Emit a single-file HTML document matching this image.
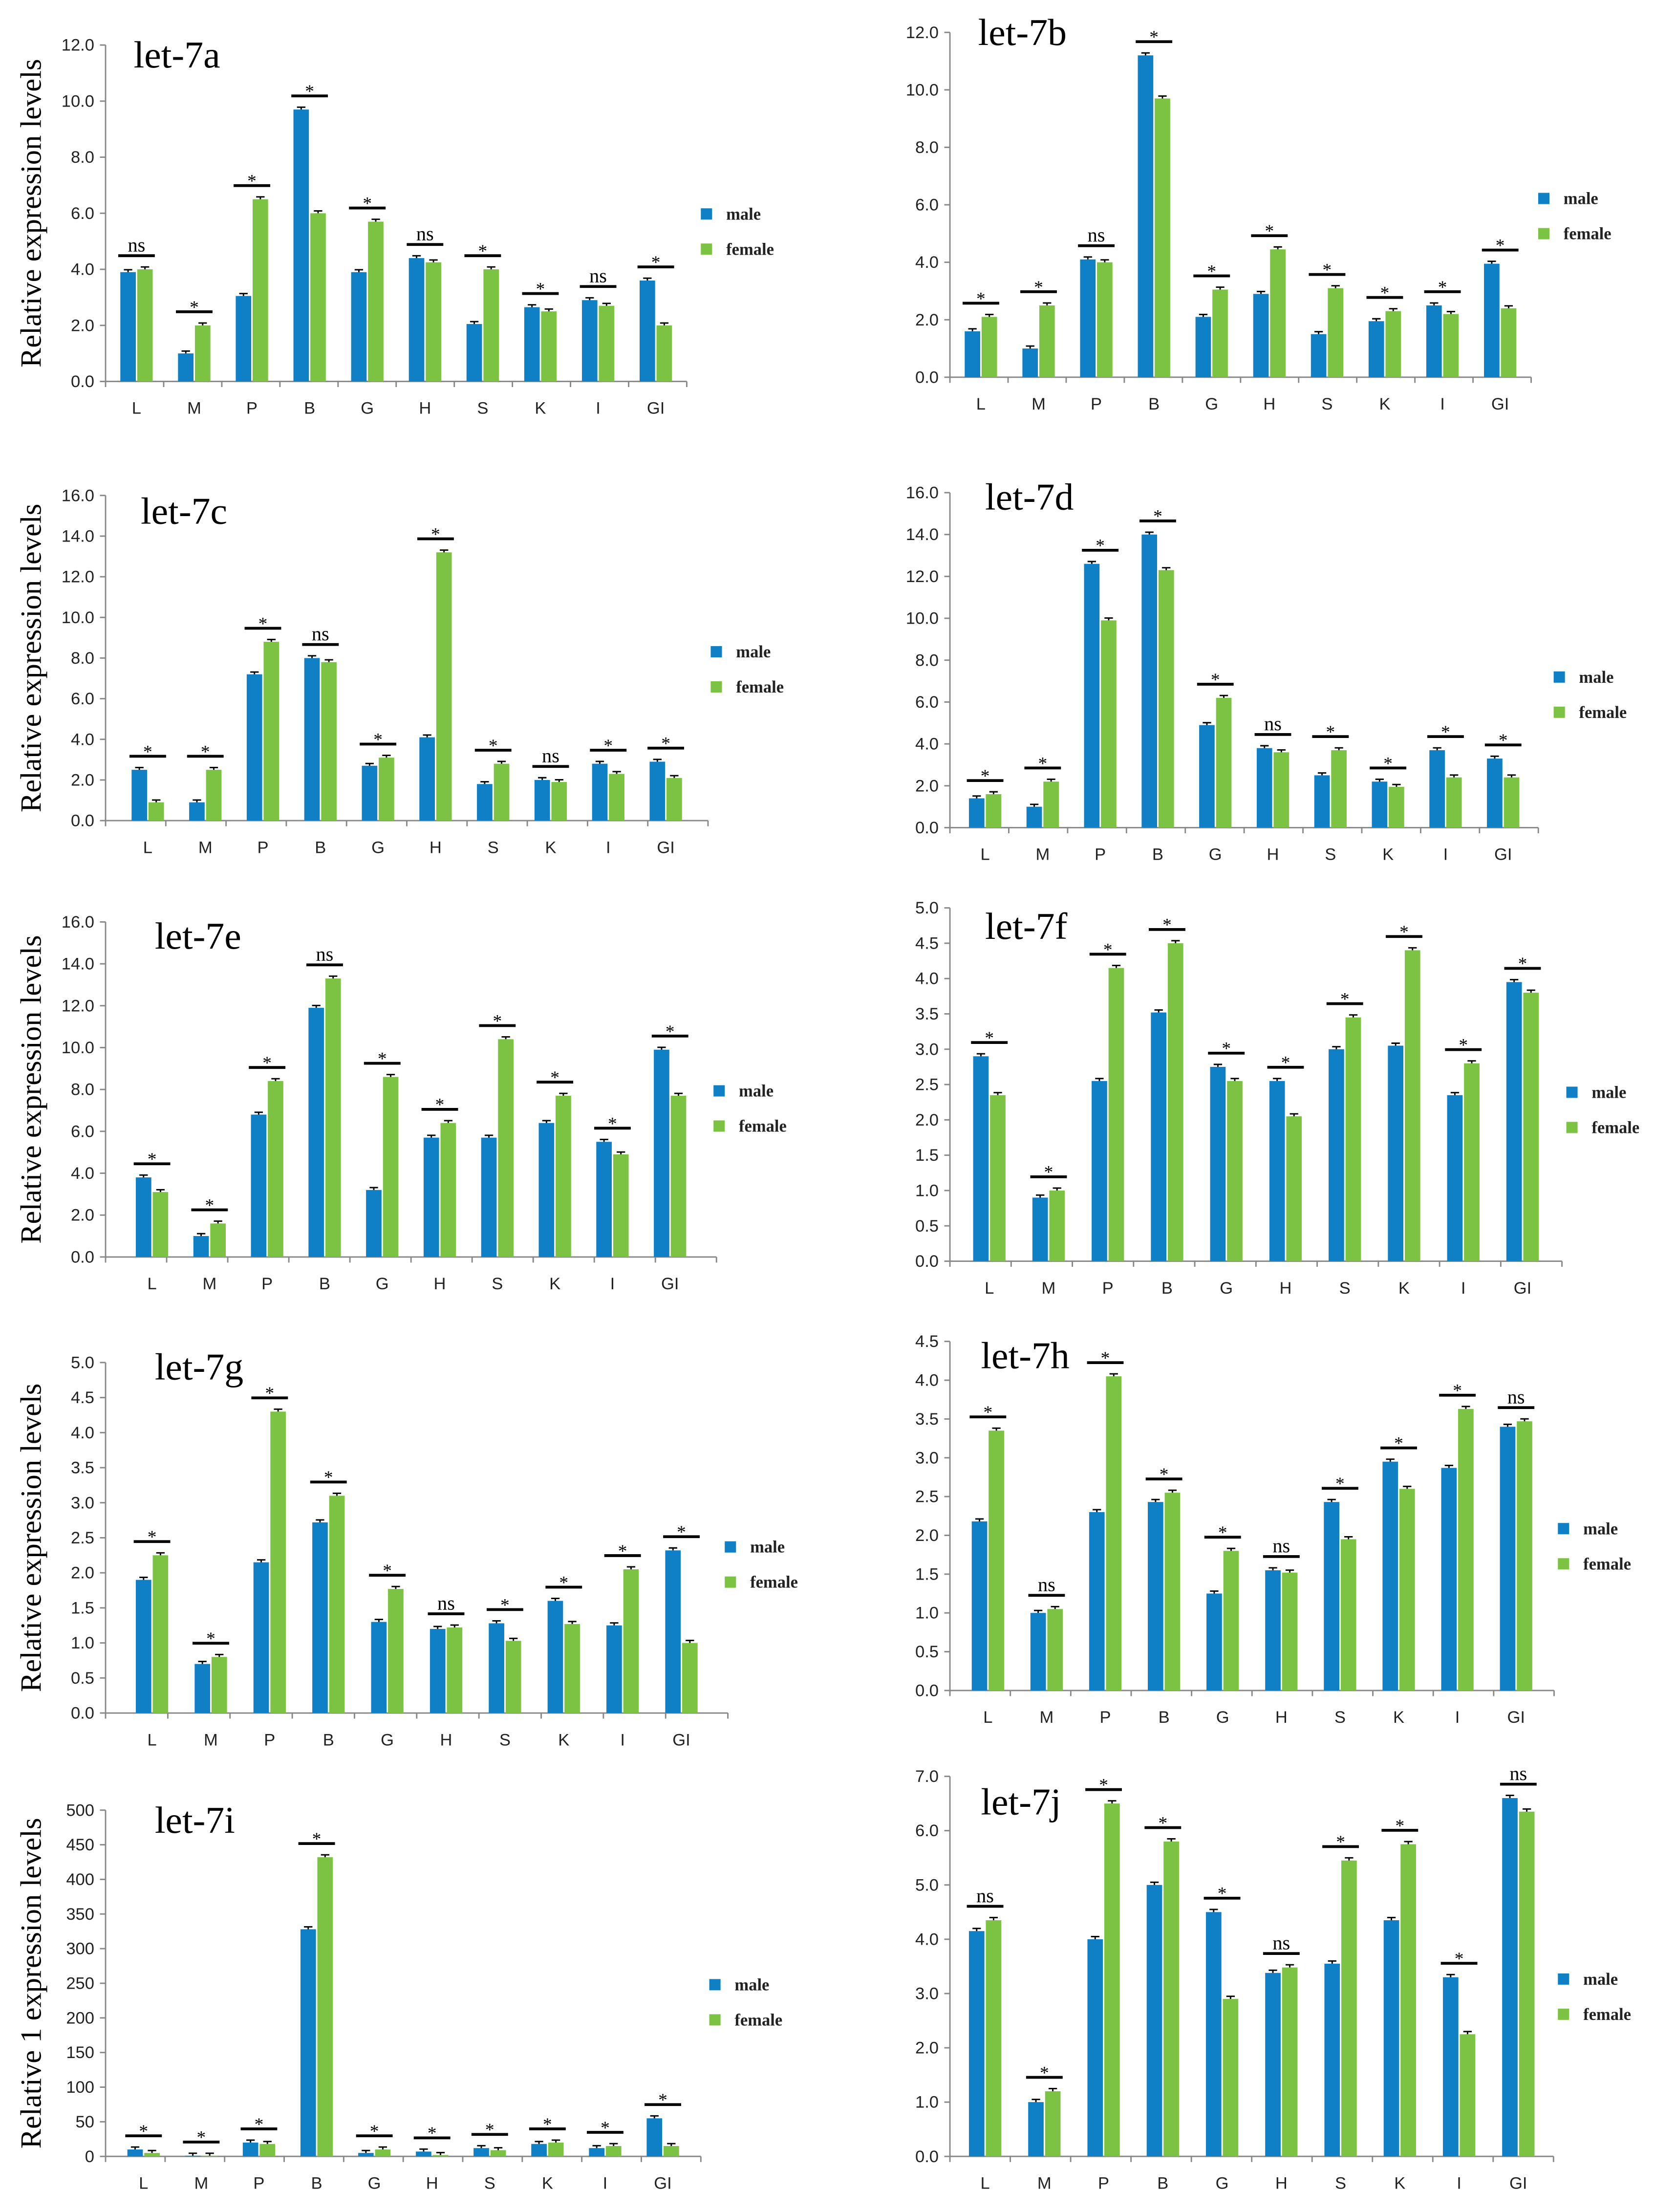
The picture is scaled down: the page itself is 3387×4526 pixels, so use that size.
<!DOCTYPE html>
<html><head><meta charset="utf-8">
<style>
html,body{margin:0;padding:0;background:#fff;}
svg{display:block;}
</style></head>
<body>
<svg id="fig" xmlns="http://www.w3.org/2000/svg" width="3387" height="4526" viewBox="0 0 1176 1571.5"></svg>
<script>
const cats = ["L","M","P","B","G","H","S","K","I","GI"];
const a_male   = [3.9,1.0,3.05,9.7,3.9,4.4,2.05,2.65,2.9,3.6];
const a_female = [4.0,2.0,6.5,6.0,5.7,4.25,4.0,2.5,2.7,2.0];
const a_sig    = ["ns","*","*","*","*","ns","*","*","ns","*"];
const b_male   = [1.6,1.0,4.1,11.2,2.1,2.9,1.5,1.95,2.5,3.95];
const b_female = [2.1,2.5,4.0,9.7,3.05,4.45,3.1,2.3,2.2,2.4];
const b_sig    = ["*","*","ns","*","*","*","*","*","*","*"];
const c_male   = [2.5,0.9,7.2,8.0,2.7,4.1,1.8,2.0,2.8,2.9];
const c_female = [0.9,2.5,8.8,7.8,3.1,13.2,2.8,1.9,2.3,2.1];
const c_sig    = ["*","*","*","ns","*","*","*","ns","*","*"];
const d_male   = [1.4,1.0,12.6,14.0,4.9,3.8,2.5,2.2,3.7,3.3];
const d_female = [1.6,2.2,9.9,12.3,6.2,3.6,3.7,1.95,2.4,2.4];
const d_sig    = ["*","*","*","*","*","ns","*","*","*","*"];
const e_male   = [3.8,1.0,6.8,11.9,3.2,5.7,5.7,6.4,5.5,9.9];
const e_female = [3.1,1.6,8.4,13.3,8.6,6.4,10.4,7.7,4.9,7.7];
const e_sig    = ["*","*","*","ns","*","*","*","*","*","*"];
const f_male   = [2.9,0.9,2.55,3.52,2.75,2.55,3.0,3.05,2.35,3.95];
const f_female = [2.35,1.0,4.15,4.5,2.55,2.05,3.45,4.4,2.8,3.8];
const f_sig    = ["*","*","*","*","*","*","*","*","*","*"];
const g_male   = [1.9,0.7,2.15,2.72,1.3,1.2,1.28,1.6,1.25,2.32];
const g_female = [2.25,0.8,4.3,3.1,1.77,1.22,1.03,1.27,2.05,1.0];
const g_sig    = ["*","*","*","*","*","ns","*","*","*","*"];
const h_male   = [2.18,1.0,2.3,2.43,1.25,1.55,2.43,2.95,2.87,3.4];
const h_female = [3.35,1.05,4.05,2.55,1.8,1.52,1.95,2.6,3.63,3.47];
const h_sig    = ["*","ns","*","*","*","ns","*","*","*","ns"];
const i_male   = [10,1,20,328,5,7,12,18,12,55];
const i_female = [5,1,18,432,10,2,9,20,15,15];
const i_sig    = ["*","*","*","*","*","*","*","*","*","*"];
const j_male   = [4.15,1.0,4.0,5.0,4.5,3.38,3.55,4.35,3.3,6.6];
const j_female = [4.35,1.2,6.5,5.8,2.9,3.48,5.45,5.75,2.25,6.35];
const j_sig    = ["ns","*","*","*","*","ns","*","*","*","ns"];

const panels = [
 {id:"let-7a",m:a_male,f:a_female,s:a_sig,x0:75,y0:271,y1:32,ymax:12,step:2,dec:1,first:22,sp:41,lx:498,ly:152,tx:95,ty:48,ylab:"Relative expression levels"},
 {id:"let-7b",m:b_male,f:b_female,s:b_sig,x0:675,y0:268,y1:23,ymax:12,step:2,dec:1,first:22,sp:41,lx:1093,ly:141,tx:695,ty:32},
 {id:"let-7c",m:c_male,f:c_female,s:c_sig,x0:75,y0:583,y1:352,ymax:16,step:2,dec:1,first:30,sp:40.9,lx:505,ly:463,tx:100,ty:372,ylab:"Relative expression levels"},
 {id:"let-7d",m:d_male,f:d_female,s:d_sig,x0:675,y0:588,y1:350,ymax:16,step:2,dec:1,first:25,sp:40.9,lx:1104,ly:481,tx:700,ty:362},
 {id:"let-7e",m:e_male,f:e_female,s:e_sig,x0:75,y0:893,y1:655,ymax:16,step:2,dec:1,first:33,sp:40.9,lx:507,ly:775,tx:110,ty:674,ylab:"Relative expression levels"},
 {id:"let-7f",m:f_male,f:f_female,s:f_sig,x0:675,y0:896,y1:645,ymax:5,step:0.5,dec:1,first:28,sp:42.1,lx:1113,ly:776,tx:700,ty:667},
 {id:"let-7g",m:g_male,f:g_female,s:g_sig,x0:75,y0:1217,y1:968,ymax:5,step:0.5,dec:1,first:33,sp:41.8,lx:515,ly:1099,tx:110,ty:980,ylab:"Relative expression levels"},
 {id:"let-7h",m:h_male,f:h_female,s:h_sig,x0:675,y0:1201,y1:953,ymax:4.5,step:0.5,dec:1,first:27,sp:41.7,lx:1107,ly:1086,tx:697,ty:972},
 {id:"let-7i",m:i_male,f:i_female,s:i_sig,x0:75,y0:1532,y1:1286,ymax:500,step:50,dec:0,first:27,sp:41,lx:504,ly:1410,tx:110,ty:1302,ylab:"Relative 1 expression levels"},
 {id:"let-7j",m:j_male,f:j_female,s:j_sig,x0:675,y0:1532,y1:1262,ymax:7,step:1,dec:1,first:25,sp:42.1,lx:1107,ly:1406,tx:697,ty:1289}
];
const NS="http://www.w3.org/2000/svg";
const svg=document.getElementById("fig");
function mk(tag,attrs,parent,text){const e=document.createElementNS(NS,tag);for(const k in attrs)e.setAttribute(k,attrs[k]);if(text!==undefined)e.textContent=text;parent.appendChild(e);return e;}
const BLUE="#0f7fc6", GREEN="#7cc243";
panels.forEach(p=>{
  const g=mk("g",{},svg);
  
  
  const y=v=>p.y0-(v/p.ymax)*(p.y0-p.y1);
  const cx=i=>p.x0+p.first+i*p.sp;
  const xe=cx(9)+p.first;
  const ya=mk("line",{x1:p.x0,y1:p.y1,x2:p.x0,y2:p.y0,stroke:"#888","stroke-width":1},g);
  
  
  const nt=Math.round(p.ymax/p.step);
  for(let k=0;k<=nt;k++){
    const v=k*p.step, yy=y(v);
    mk("line",{x1:p.x0-4,y1:yy,x2:p.x0,y2:yy,stroke:"#888","stroke-width":1},g);
    const t=mk("text",{x:p.x0-8,y:yy+4,"text-anchor":"end","font-family":"Liberation Sans, sans-serif","font-size":12,fill:"#222"},g,v.toFixed(p.dec));
    
    
  }
  const xa=mk("line",{x1:p.x0,y1:p.y0,x2:xe,y2:p.y0,stroke:"#888","stroke-width":1},g);
  
  
  for(let i=0;i<=10;i++){const xx=p.x0+(xe-p.x0)*i/10;mk("line",{x1:xx,y1:p.y0,x2:xx,y2:p.y0+4,stroke:"#888","stroke-width":1},g);}
  const bw=11, err=p.ymax*0.007;
  cats.forEach((c,i)=>{
    const c0=cx(i);
    const t=mk("text",{x:c0,y:p.y0+23,"text-anchor":"middle","font-family":"Liberation Sans, sans-serif","font-size":12,fill:"#222"},g,c);
    
    
    const vm=p.m[i], vf=p.f[i];
    const bm=mk("rect",{x:c0-bw-0.5,y:y(vm),width:bw,height:p.y0-y(vm),fill:BLUE},g);
    
    
    const bf=mk("rect",{x:c0+0.5,y:y(vf),width:bw,height:p.y0-y(vf),fill:GREEN},g);
    
    
    [[c0-bw/2-0.5,vm],[c0+bw/2+0.5,vf]].forEach(([bx,v])=>{
      const t1=y(v+err);
      mk("line",{x1:bx,y1:t1,x2:bx,y2:y(v),stroke:"#000","stroke-width":1},g);
      mk("line",{x1:bx-3,y1:t1,x2:bx+3,y2:t1,stroke:"#000","stroke-width":1},g);
    });
    const top=Math.min(y(vm+err),y(vf+err))-8;
    const sl=mk("line",{x1:c0-13,y1:top,x2:c0+13,y2:top,stroke:"#000","stroke-width":2},g);
    
    
    const st=mk("text",{x:c0,y:p.s[i]==="ns"?top-3:top+1,"text-anchor":"middle","font-family":"Liberation Serif, serif","font-size":p.s[i]==="ns"?14:13,fill:"#000"},g,p.s[i]);
    
    
  });
  const tt=mk("text",{x:p.tx,y:p.ty,"font-family":"Liberation Serif, serif","font-size":27,fill:"#000"},g,p.id);
  
  
  [["male",BLUE,0],["female",GREEN,25]].forEach(([n,col,dy])=>{
    const lg=mk("g",{},g);
    
    
    mk("rect",{x:p.lx,y:p.ly+dy-4,width:8,height:8,fill:col},lg);
    mk("text",{x:p.lx+18,y:p.ly+dy+4,"font-family":"Liberation Serif, serif","font-size":12,"font-weight":"bold",fill:"#222"},lg,n);
  });
  if(p.ylab){
    const cy=(p.y0+p.y1)/2;
    const yl=mk("text",{x:0,y:0,transform:`translate(29,${cy}) rotate(-90)`,"text-anchor":"middle","font-family":"Liberation Serif, serif","font-size":21,fill:"#000"},g,p.ylab);
    
    
  }
});
</script>
</body></html>
